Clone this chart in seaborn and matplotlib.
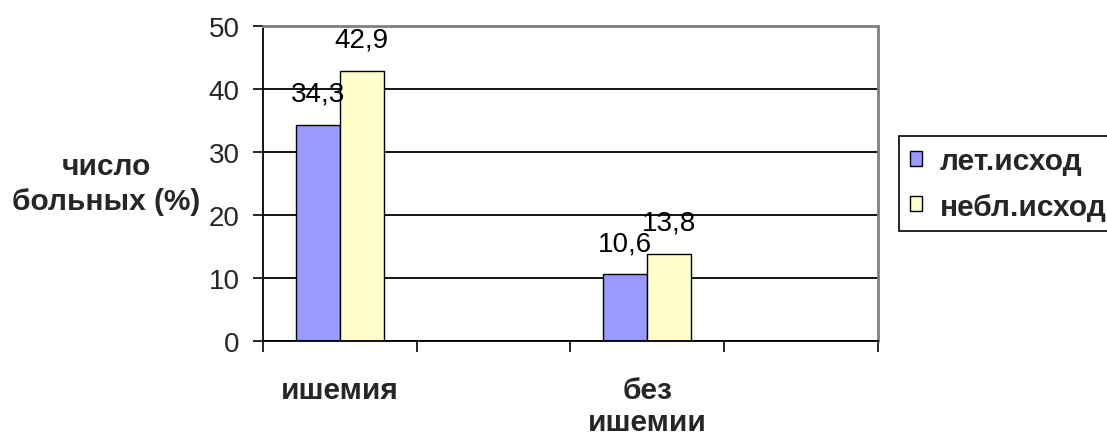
import matplotlib
matplotlib.use("Agg")
import matplotlib.pyplot as plt
import pandas as pd
import seaborn as sns

# --- data ---
categories = ["ишемия", "без\nишемии"]
series = ["лет.исход", "небл.исход"]
letal = [34.3, 10.6]
unfavourable = [42.9, 13.8]
y_ticks = [0, 10, 20, 30, 40, 50]
colors = ["#9999FF", "#FFFFCC"]

# the category axis has four slots; the 2nd and 4th stay empty
slot_order = [categories[0], "slot2", categories[1], "slot4"]

df = pd.DataFrame({
    "category": categories * 2,
    "series": [series[0]] * len(categories) + [series[1]] * len(categories),
    "value": letal + unfavourable,
})

sns.set_style("white")
plt.rcParams["font.family"] = ["Liberation Sans", "DejaVu Sans"]

NUM_SIZE = 20
BOLD_SIZE = 21.5

fig = plt.figure(figsize=(11.07, 4.39), dpi=100)
ax = fig.add_axes([0.2376, 0.221, 0.5555, 0.7175])

sns.barplot(data=df, x="category", y="value", hue="series",
            order=slot_order, hue_order=series, palette=colors,
            width=0.571, gap=0, saturation=1, edgecolor="black",
            linewidth=1.0, ax=ax, legend=True)

# value labels above each bar, decimal comma
for cont, vals in zip(ax.containers, [letal, unfavourable]):
    ax.bar_label(cont, labels=[f"{v:.1f}".replace(".", ",") for v in vals],
                 padding=13, fontsize=NUM_SIZE, color="black")

# y axis
ax.set_ylim(0, 50)
ax.set_yticks(y_ticks)
ax.tick_params(axis="y", direction="out", length=7, width=1.2,
               labelsize=NUM_SIZE, pad=10, color="black", left=True)
ax.yaxis.grid(True, color="black", linewidth=1.3)
ax.set_axisbelow(True)
ax.get_ygridlines()[-1].set_color("#808080")

ax.set_ylabel("число\nбольных (%)", rotation=0, fontsize=BOLD_SIZE,
              fontweight="bold", ha="center", va="center",
              multialignment="center", linespacing=1.3)
ax.yaxis.set_label_coords(-0.255, 0.5)

# x axis: tick marks on slot boundaries, names centred in their slots
ax.set_xlim(-0.5, 3.5)
ax.set_xticks([-0.5, 0.5, 1.5, 2.5, 3.5])
ax.set_xticklabels([])
ax.set_xticks([0, 2], labels=categories, minor=True)
ax.tick_params(axis="x", which="major", direction="out", length=8,
               width=1.2, color="black", bottom=True)
ax.tick_params(axis="x", which="minor", length=0, labelsize=BOLD_SIZE, pad=25)
for lab in ax.get_xticklabels(minor=True):
    lab.set_fontweight("bold")
    lab.set_linespacing(1.2)
    lab.set_verticalalignment("top")
ax.set_xlabel("")

for side in ["left", "bottom"]:
    ax.spines[side].set_color("black")
    ax.spines[side].set_linewidth(1.3)
for side in ["top", "right"]:
    ax.spines[side].set_color("#808080")
    ax.spines[side].set_linewidth(2)

leg = ax.legend(loc="upper left", bbox_to_anchor=(0.812, 0.688),
                bbox_transform=fig.transFigure, frameon=True,
                fancybox=False, edgecolor="black", framealpha=1,
                prop={"size": BOLD_SIZE, "weight": "bold"}, title=None,
                handlelength=0.4, handleheight=0.4, handletextpad=0.6,
                borderpad=0.36, labelspacing=0.6, borderaxespad=0)
leg.get_frame().set_linewidth(1.2)

fig.savefig("out.png", dpi=100)
